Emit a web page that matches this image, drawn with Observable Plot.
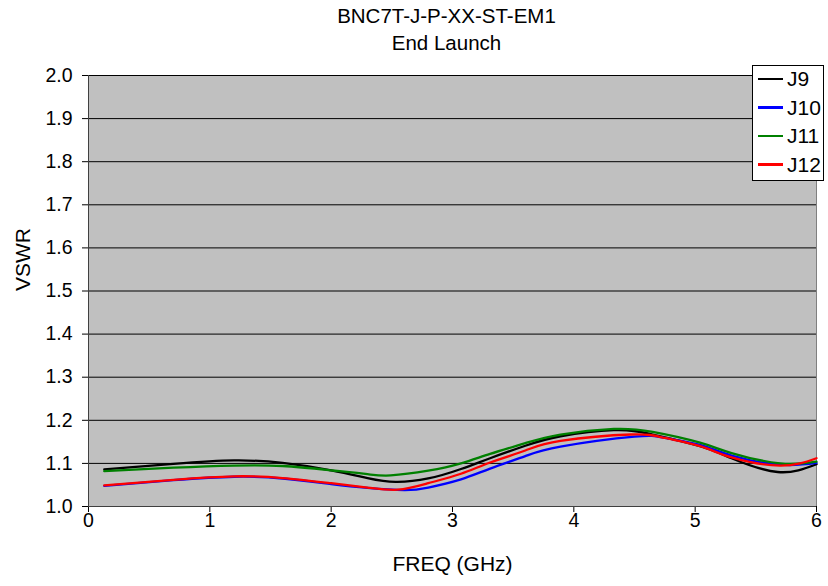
<!DOCTYPE html>
<html>
<head>
<meta charset="utf-8">
<script src="https://cdn.jsdelivr.net/npm/d3@7"></script>
<script src="https://cdn.jsdelivr.net/npm/@observablehq/plot@0.6"></script>
<style>
  body { margin: 0; background: #fff; }
  #wrap { position: relative; width: 828px; height: 586px; font-family: "Liberation Sans", Arial, sans-serif; }
  #chart { position: absolute; left: 0; top: 0; }
  .title { position: absolute; left: 0; width: 893px; text-align: center; font-size: 20.5px; line-height: 23px; color: #000; white-space: nowrap; }
  #legend { position: absolute; left: 752px; top: 65px; width: 72px; height: 116px; background: #fff; border: 1px solid #000; box-sizing: border-box; }
  .sw { position: absolute; left: 5px; width: 25px; height: 2.5px; }
  .lt { position: absolute; left: 34px; font-size: 21px; line-height: 22px; height: 22px; color: #000; white-space: nowrap; }
</style>
</head>
<body>
<div id="wrap">
  <div id="chart"></div>
  <div class="title" style="top:4px">BNC7T-J-P-XX-ST-EM1</div>
  <div class="title" style="top:31px">End Launch</div>
  <div id="legend"></div>
</div>
<script>
const seriesNames = ["J9", "J10", "J11", "J12"];
const seriesColors = ["#000000", "#0000ff", "#008000", "#ff0000"];
const yTicks = [1.0, 1.1, 1.2, 1.3, 1.4, 1.5, 1.6, 1.7, 1.8, 1.9, 2.0];
const xTicks = [0, 1, 2, 3, 4, 5, 6];

const freqJ9  = [0.13, 0.7, 1.2, 1.6, 2.0, 2.3, 2.53, 2.8, 3.07, 3.31, 3.6, 3.89, 4.33, 4.65, 5.04, 5.3, 5.68, 6.0];
const vswrJ9  = [1.086, 1.099, 1.107, 1.101, 1.084, 1.066, 1.057, 1.065, 1.087, 1.112, 1.141, 1.163, 1.177, 1.167, 1.140, 1.112, 1.080, 1.098];
const freqJ10 = [0.13, 0.7, 1.2, 1.6, 2.0, 2.3, 2.6, 2.8, 3.07, 3.31, 3.6, 3.89, 4.5, 4.75, 5.04, 5.3, 5.7, 6.0];
const vswrJ10 = [1.048, 1.061, 1.069, 1.065, 1.052, 1.043, 1.038, 1.044, 1.063, 1.088, 1.117, 1.139, 1.162, 1.159, 1.143, 1.118, 1.097, 1.101];
const freqJ11 = [0.13, 0.7, 1.2, 1.6, 2.0, 2.3, 2.49, 2.8, 3.07, 3.31, 3.6, 3.89, 4.33, 4.65, 5.04, 5.3, 5.7, 6.0];
const vswrJ11 = [1.082, 1.090, 1.095, 1.094, 1.084, 1.075, 1.072, 1.083, 1.100, 1.122, 1.147, 1.167, 1.180, 1.173, 1.148, 1.124, 1.100, 1.104];
const freqJ12 = [0.13, 0.7, 1.2, 1.6, 2.0, 2.3, 2.55, 2.8, 3.07, 3.31, 3.6, 3.89, 4.47, 4.75, 5.04, 5.3, 5.7, 6.0];
const vswrJ12 = [1.049, 1.062, 1.070, 1.066, 1.054, 1.044, 1.039, 1.054, 1.076, 1.102, 1.130, 1.152, 1.167, 1.159, 1.140, 1.114, 1.095, 1.112];

const freqs = [freqJ9, freqJ10, freqJ11, freqJ12];
const vals = [vswrJ9, vswrJ10, vswrJ11, vswrJ12];
const data = [];
seriesNames.forEach((s, i) => freqs[i].forEach((f, j) => data.push({series: s, freq: f, vswr: vals[i][j]})));

const chart = Plot.plot({
  width: 828,
  height: 586,
  marginLeft: 88,
  marginRight: 12,
  marginTop: 75,
  marginBottom: 80,
  style: {fontFamily: "Liberation Sans, Arial, sans-serif", fontSize: "19.5px", color: "#000", background: "transparent"},
  x: {domain: [0, 6]},
  y: {domain: [1, 2]},
  color: {domain: seriesNames, range: seriesColors},
  marks: [
    Plot.frame({fill: "#c0c0c0", stroke: "#808080"}),
    Plot.ruleY(yTicks.slice(1), {stroke: "#000", strokeWidth: 1}),
    Plot.axisY({ticks: yTicks, tickFormat: d3.format(".1f"), tickSize: 6, tickPadding: 10, label: null, fontSize: 19.5}),
    Plot.axisX({ticks: xTicks, tickFormat: d3.format("d"), tickSize: 6, tickPadding: 1, label: null, fontSize: 19.5}),
    Plot.ruleX([0], {stroke: "#404040"}),
    Plot.ruleY([1], {stroke: "#404040"}),
    Plot.line(data, {x: "freq", y: "vswr", z: "series", stroke: "series", strokeWidth: 2.3, curve: "natural"}),
    Plot.text(["VSWR"], {frameAnchor: "left", dx: -65, rotate: -90, fontSize: 21}),
    Plot.text(["FREQ (GHz)"], {frameAnchor: "bottom", dy: 64, fontSize: 21})
  ]
});
document.getElementById("chart").appendChild(chart);

const legend = document.getElementById("legend");
const rowCenters = [14, 42.5, 71, 99.5];
seriesNames.forEach((s, i) => {
  const sw = document.createElement("div");
  sw.className = "sw";
  sw.style.top = (rowCenters[i] - 1.25 - 1) + "px";
  sw.style.background = seriesColors[i];
  legend.appendChild(sw);
  const t = document.createElement("div");
  t.className = "lt";
  t.style.top = (rowCenters[i] - 11 - 1) + "px";
  t.textContent = s;
  legend.appendChild(t);
});
</script>
</body>
</html>
